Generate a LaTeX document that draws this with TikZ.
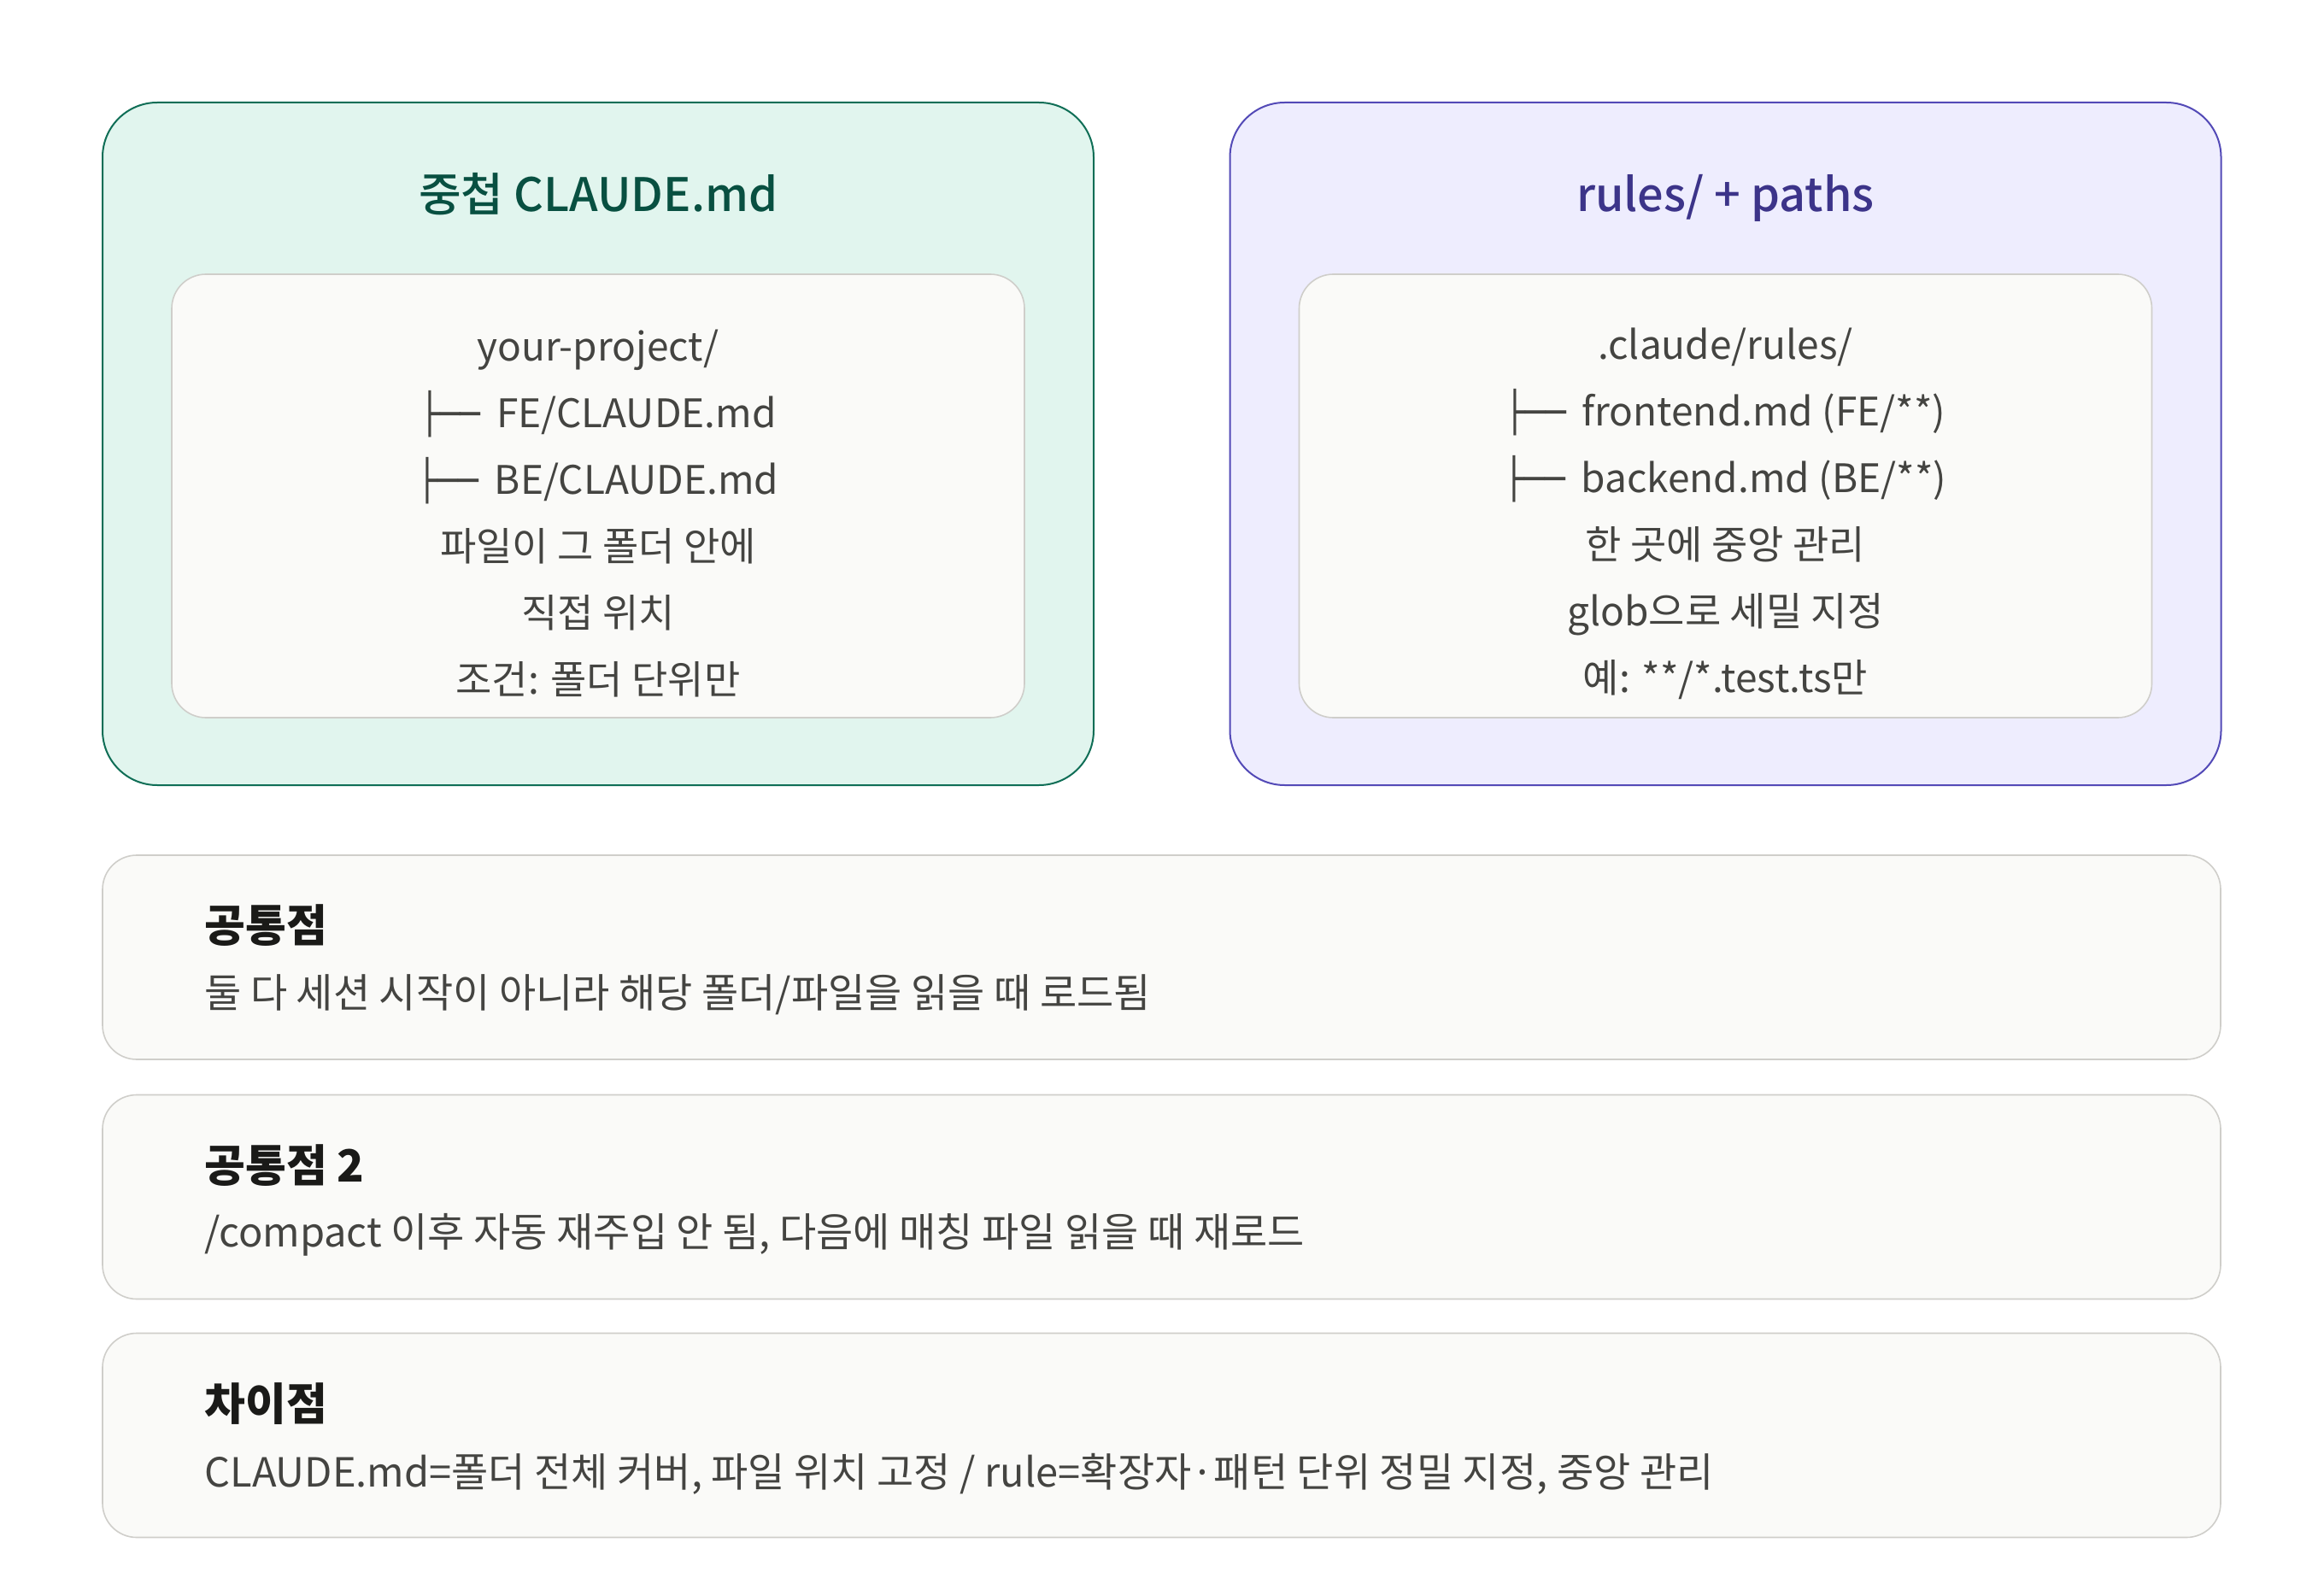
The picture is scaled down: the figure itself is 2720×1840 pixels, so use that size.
\documentclass[tikz,border=0pt]{standalone}
\usepackage{fontspec}
\setmainfont{Noto Sans CJK KR}
\newfontfamily\titlefont{Noto Sans CJK KR Medium}
\newfontfamily\treefont[FakeStretch=0.86]{DejaVu Sans}
\definecolor{greenbg}{HTML}{E1F5EE}
\definecolor{greenline}{HTML}{0F6E56}
\definecolor{greentitle}{HTML}{085041}
\definecolor{purplebg}{HTML}{EEEDFE}
\definecolor{purpleline}{HTML}{534AB7}
\definecolor{purpletitle}{HTML}{3C3489}
\definecolor{cardbg}{HTML}{FAFAF8}
\definecolor{cardline}{HTML}{CFCECA}
\definecolor{bodytext}{HTML}{444441}
\definecolor{headtext}{HTML}{1A1A18}
\newcommand{\branch}{{\treefont ├──}\hspace{0.4em}}
\begin{document}
\begin{tikzpicture}[x=0.5pt,y=-0.5pt,
    outer/.style={draw, line width=1pt, rounded corners=32pt, minimum width=580pt, minimum height=399.5pt},
    inner/.style={draw=cardline, fill=cardbg, line width=0.8pt, rounded corners=20pt, minimum width=499pt, minimum height=259.5pt},
    card/.style={draw=cardline, fill=cardbg, line width=0.8pt, rounded corners=20pt, minimum width=1239.5pt, minimum height=119.5pt},
    title/.style={anchor=base, font=\titlefont\fontsize{27}{32}\selectfont},
    lines/.style={align=center, text=bodytext, font=\fontsize{23}{39}\selectfont},
    head/.style={anchor=west, inner sep=0pt, text=headtext, font=\bfseries\fontsize{26}{30}\selectfont},
    body/.style={anchor=west, inner sep=0pt, text=bodytext, font=\fontsize{23.5}{28}\selectfont}]
  \useasboundingbox[fill=white] (0,0) rectangle (2720,1840);
  % left panel
  \node[outer, fill=greenbg, draw=greenline] (nested) at (700,519.5) {};
  \node[title, text=greentitle] (nestedtitle) at (700,248) {중첩 CLAUDE.md};
  \node[inner] (nestedcard) at (700,580.5) {};
  \node[lines] (nestedtext) at (700,601) {your-project/\\
    \branch FE/CLAUDE.md\\
    \branch BE/CLAUDE.md\\
    파일이 그 폴더 안에\\
    직접 위치\\
    조건: 폴더 단위만};
  % right panel
  \node[outer, fill=purplebg, draw=purpleline] (rules) at (2019.5,519.5) {};
  \node[title, text=purpletitle] (rulestitle) at (2019.5,248) {rules/ + paths};
  \node[inner] (rulescard) at (2019.5,580.5) {};
  \node[lines] (rulestext) at (2019.5,601) {.claude/rules/\\
    \branch frontend.md (FE/**)\\
    \branch backend.md (BE/**)\\
    한 곳에 중앙 관리\\
    glob으로 세밀 지정\\
    예: **/*.test.ts만};
  % bottom cards
  \node[card] (common) at (1359.5,1120.5) {};
  \node[head] (commonhead) at (239,1083) {공통점};
  \node[body] (commonbody) at (239,1164) {둘 다 세션 시작이 아니라 해당 폴더/파일을 읽을 때 로드됨};
  \node[card] (common2) at (1359.5,1401) {};
  \node[head] (common2head) at (239,1364) {공통점 2};
  \node[body] (common2body) at (239,1445) {/compact 이후 자동 재주입 안 됨, 다음에 매칭 파일 읽을 때 재로드};
  \node[card] (diff) at (1359.5,1680) {};
  \node[head] (diffhead) at (239,1643) {차이점};
  \node[body] (diffbody) at (239,1725) {CLAUDE.md=폴더 전체 커버, 파일 위치 고정 / rule=확장자·패턴 단위 정밀 지정, 중앙 관리};
\end{tikzpicture}
\end{document}
